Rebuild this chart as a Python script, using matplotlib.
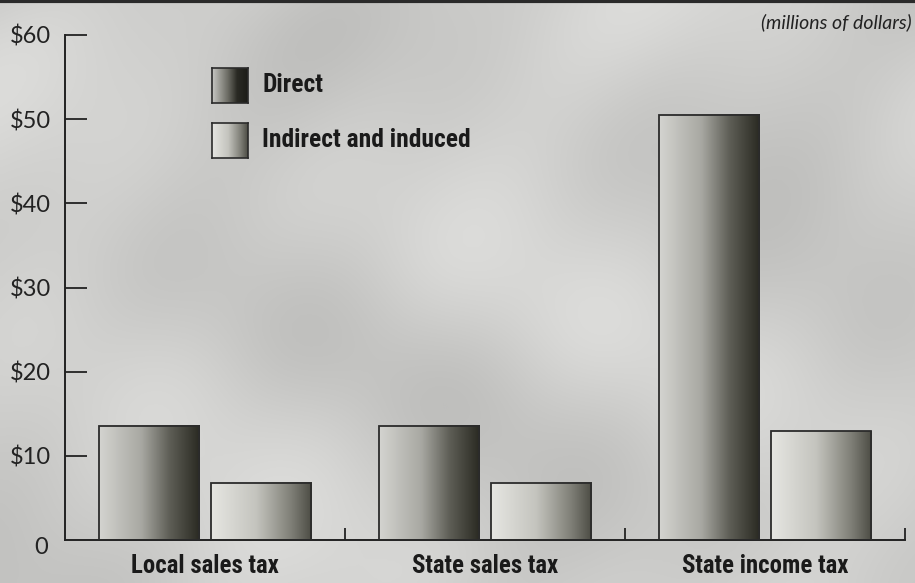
import os
import numpy as np
import matplotlib
matplotlib.use("Agg")
import matplotlib.pyplot as plt
from matplotlib import font_manager as fm
from matplotlib import transforms as mtransforms
from matplotlib.colors import LinearSegmentedColormap
from matplotlib.patches import Rectangle

# ---- data (millions of dollars) ----
categories = ["Local sales tax", "State sales tax", "State income tax"]
direct = [13.6, 13.6, 50.5]
indirect = [6.8, 6.8, 12.9]
yticks = [0, 10, 20, 30, 40, 50, 60]
ytick_labels = ["0", "$10", "$20", "$30", "$40", "$50", "$60"]
series_names = ["Direct", "Indirect and induced"]

# ---- fonts: look for a bold condensed face (Futura Condensed look-alike) ----
def find_condensed_bold():
    files = [f.fname for f in fm.fontManager.ttflist]
    prefs = ["NotoSans-ExtraCondensedBold", "NotoSans-ExtraCondensedSemiBold",
             "RobotoCondensed-Bold", "LiberationSansNarrow-Bold",
             "NotoSans-CondensedBold", "DejaVuSansCondensed-Bold",
             "OpenSans-CondensedBold"]
    for p in prefs:
        for fn in files:
            if os.path.basename(fn).startswith(p):
                return fm.FontProperties(fname=fn)
    for fn in files:
        b = os.path.basename(fn)
        if ("ondensed" in b or "Narrow" in b) and "Bold" in b and "Italic" not in b:
            return fm.FontProperties(fname=fn)
    return fm.FontProperties(family="Roboto", weight="bold")

cond = find_condensed_bold()
geo = ["Lato", "DejaVu Sans"]

def fit_text(txt, target_w, target_h):
    # size a text between a width fit and a height fit of the reference
    fig.canvas.draw()
    bb = txt.get_window_extent()
    fs = txt.get_fontsize()
    fs_w = fs * target_w / bb.width
    fs_h = fs * target_h / bb.height
    txt.set_fontsize(min(0.5 * (fs_w + fs_h), fs_w * 1.04))

# ---- styles ----
cmap_direct = LinearSegmentedColormap.from_list(
    "direct", [(0, "#d4d4d0"), (0.42, "#a8a8a2"), (0.7, "#5e5e56"), (1, "#2a2a22")])
cmap_indirect = LinearSegmentedColormap.from_list(
    "indirect", [(0, "#e6e6e2"), (0.45, "#c4c4be"), (0.8, "#7e7e76"), (1, "#4c4c44")])
cmap_sw_direct = LinearSegmentedColormap.from_list(
    "swd", [(0, "#c8c8c4"), (0.45, "#6a6a62"), (0.7, "#2a2a24"), (1, "#1c1c18")])
grad = np.linspace(0, 1, 256).reshape(1, -1)

fig = plt.figure(figsize=(9.15, 5.83), dpi=100)

# mottled paper background
bg = fig.add_axes([0, 0, 1, 1], zorder=-5)
yy, xx = np.mgrid[0:1:300j, 0:1.57:470j]
tex = (np.sin(xx * 7 + np.sin(yy * 5) * 2) * 0.5
       + np.sin(yy * 11 - xx * 4) * 0.35
       + np.sin(xx * 19 + yy * 13) * 0.15)
bg.imshow(tex, cmap=LinearSegmentedColormap.from_list("bg", ["#bfbfbd", "#dcdcda"]),
          aspect="auto", extent=[0, 1, 0, 1], interpolation="bicubic")
bg.axis("off")
# dark rule at the very top
fig.add_artist(plt.Line2D([0, 1], [0.998, 0.998], color="#2a2a2a", lw=3,
                          transform=fig.transFigure))

ax = fig.add_axes([65 / 915, 43 / 583, 840 / 915, 505 / 583])
ax.set_facecolor("none")

w = 0.36
off = 0.2
for i in range(len(categories)):
    c = i + 0.5
    for val, dx, cm in [(direct[i], -off, cmap_direct), (indirect[i], off, cmap_indirect)]:
        x0 = c + dx - w / 2
        ax.imshow(grad, cmap=cm, extent=[x0, x0 + w, 0, val], aspect="auto",
                  interpolation="bilinear", zorder=2)
        ax.add_patch(Rectangle((x0, 0), w, val, facecolor="none",
                               edgecolor="#2b2b2b", lw=1.3, zorder=3))

ax.set_xlim(0, 3)
ax.set_ylim(0, 60)
ax.set_aspect("auto")

for s in ["top", "right"]:
    ax.spines[s].set_visible(False)
for s in ["left", "bottom"]:
    ax.spines[s].set_color("#222222")
    ax.spines[s].set_linewidth(1.4)

ax.set_yticks(yticks)
ax.set_yticklabels(ytick_labels, fontfamily=geo, fontsize=17, color="#222222")
ax.tick_params(axis="y", direction="in", length=16, width=1.3, color="#222222", pad=10)
ax.yaxis.get_major_ticks()[0].tick1line.set_visible(False)
# the "0" sits a little lower in the original
zero_lbl = ax.yaxis.get_major_ticks()[0].label1
zero_lbl.set_transform(zero_lbl.get_transform()
                       + mtransforms.ScaledTranslation(-0.03, -0.06, fig.dpi_scale_trans))

ax.set_xticks([1, 2, 3])
ax.set_xticklabels([])
ax.tick_params(axis="x", which="major", direction="in", length=9, width=1.3, color="#222222")

# category labels, 26 px below the baseline
below = ax.transData + mtransforms.ScaledTranslation(0, -26 / 100, fig.dpi_scale_trans)
cat_texts = [ax.text(i + 0.5, 0, name, transform=below, ha="center", va="center",
                     fontproperties=cond, fontsize=20, color="#1a1a1a")
             for i, name in enumerate(categories)]
fit_text(cat_texts[0], 142, 30)
for t in cat_texts[1:]:
    t.set_fontsize(cat_texts[0].get_fontsize())

# unit note
fig.text(912 / 915, 1 - 22 / 583, "(millions of dollars)", ha="right", va="center",
         fontfamily=geo, fontstyle="italic", fontsize=14, color="#222222")

# legend swatches + labels
leg_texts = []
for k, (name, cm) in enumerate(zip(series_names, [cmap_sw_direct, cmap_indirect])):
    top = 68 + k * 55
    sw = fig.add_axes([212 / 915, 1 - (top + 35) / 583, 36 / 915, 35 / 583])
    sw.imshow(grad, cmap=cm, aspect="auto", extent=[0, 1, 0, 1])
    sw.set_xticks([])
    sw.set_yticks([])
    for sp in sw.spines.values():
        sp.set_color("#2b2b2b")
        sp.set_linewidth(1.2)
    t = fig.text(262 / 915, 1 - (top + 17) / 583, name, ha="left", va="center",
                 fontproperties=cond, fontsize=18, color="#1a1a1a")
    leg_texts.append(t)
fit_text(leg_texts[1], 200, 30)
leg_texts[0].set_fontsize(leg_texts[1].get_fontsize())

fig.savefig("out.png", dpi=100)
